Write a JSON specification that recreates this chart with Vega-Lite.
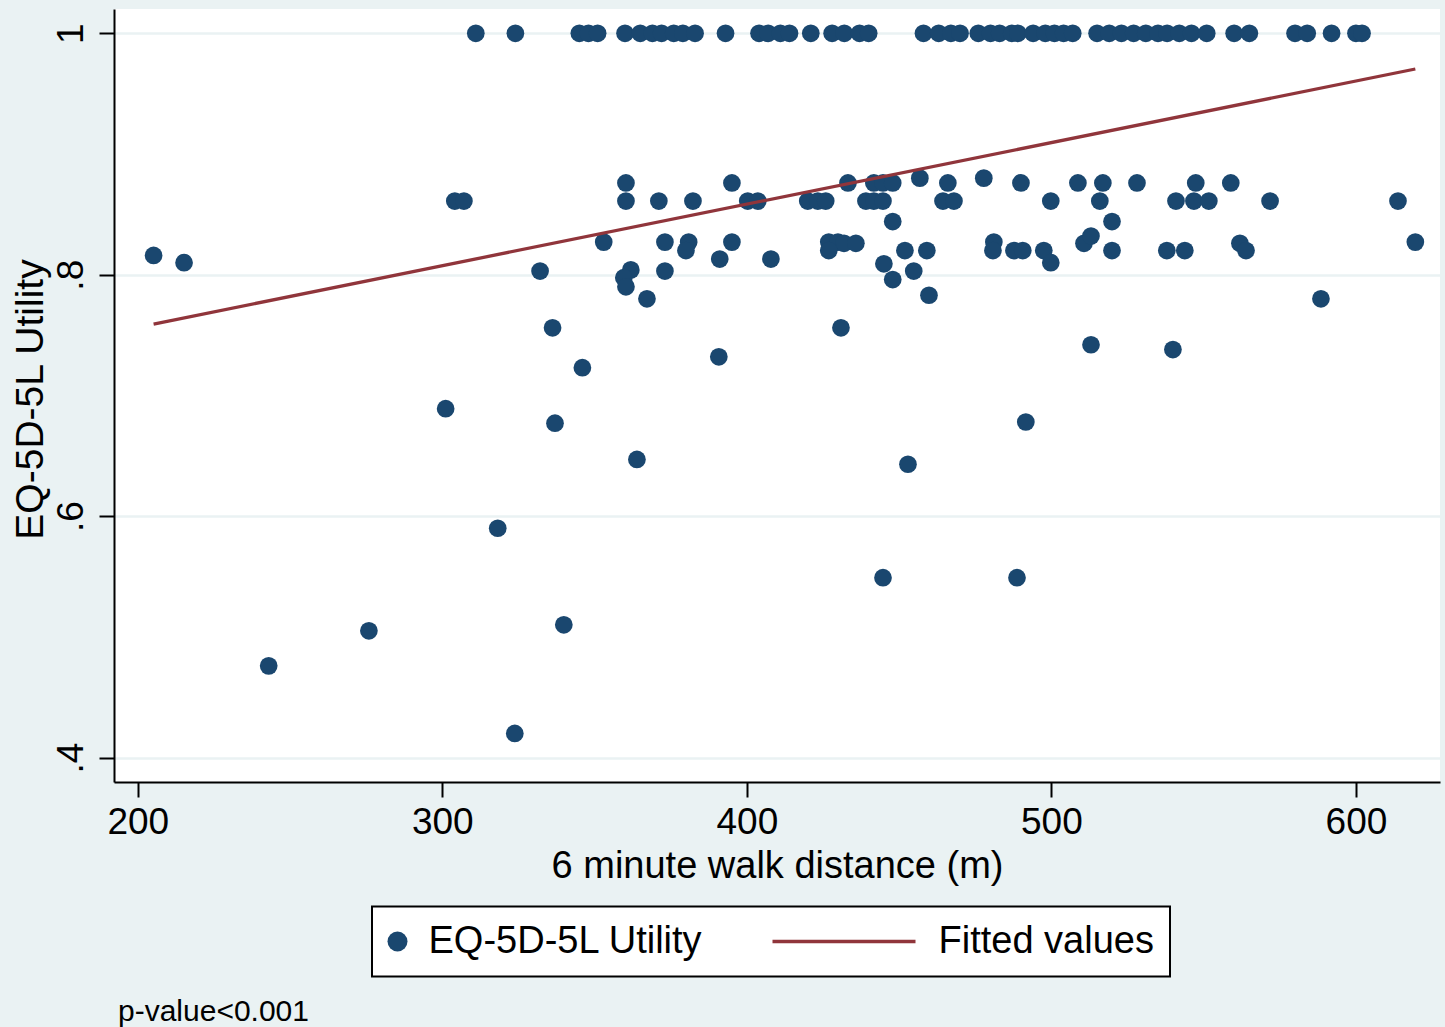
{
  "$schema": "https://vega.github.io/schema/vega-lite/v6.json",
  "width": 1326,
  "height": 773,
  "autosize": {"type": "none"},
  "padding": {"left": 114, "top": 9, "right": 5, "bottom": 245},
  "background": "#EAF2F3",
  "config": {
    "view": {"fill": "white", "stroke": null},
    "font": "Liberation Sans",
    "legend": {"strokeWidth": 2}
  },
  "title": {
    "text": "p-value<0.001",
    "orient": "bottom",
    "anchor": "start",
    "frame": "group",
    "fontSize": 30,
    "fontWeight": "normal",
    "font": "Liberation Sans",
    "color": "black",
    "baseline": "alphabetic",
    "offset": 43,
    "dx": 4
  },
  "datasets": {
    "pts": [
      {"walk":311,"utility":1},{"walk":324,"utility":1},{"walk":345,"utility":1},{"walk":348,"utility":1},{"walk":351,"utility":1},
      {"walk":360,"utility":1},{"walk":365,"utility":1},{"walk":369,"utility":1},{"walk":372,"utility":1},{"walk":376,"utility":1},
      {"walk":379,"utility":1},{"walk":383,"utility":1},{"walk":393,"utility":1},{"walk":404,"utility":1},{"walk":407,"utility":1},
      {"walk":411,"utility":1},{"walk":414,"utility":1},{"walk":421,"utility":1},{"walk":428,"utility":1},{"walk":432,"utility":1},
      {"walk":437,"utility":1},{"walk":440,"utility":1},{"walk":458,"utility":1},{"walk":463,"utility":1},{"walk":467,"utility":1},
      {"walk":470,"utility":1},{"walk":476,"utility":1},{"walk":480,"utility":1},{"walk":483,"utility":1},{"walk":487,"utility":1},
      {"walk":489,"utility":1},{"walk":494,"utility":1},{"walk":498,"utility":1},{"walk":501,"utility":1},{"walk":504,"utility":1},
      {"walk":507,"utility":1},{"walk":515,"utility":1},{"walk":519,"utility":1},{"walk":523,"utility":1},{"walk":527,"utility":1},
      {"walk":531,"utility":1},{"walk":535,"utility":1},{"walk":538,"utility":1},{"walk":542,"utility":1},{"walk":546,"utility":1},
      {"walk":551,"utility":1},{"walk":560,"utility":1},{"walk":565,"utility":1},{"walk":580,"utility":1},{"walk":584,"utility":1},
      {"walk":592,"utility":1},{"walk":600,"utility":1},{"walk":602,"utility":1},
      {"walk":360.3,"utility":0.876},{"walk":395.1,"utility":0.876},{"walk":433.2,"utility":0.876},{"walk":441.7,"utility":0.876},
      {"walk":444.7,"utility":0.876},{"walk":447.9,"utility":0.876},{"walk":466.0,"utility":0.876},{"walk":490.0,"utility":0.876},
      {"walk":508.7,"utility":0.876},{"walk":516.9,"utility":0.876},{"walk":528.1,"utility":0.876},{"walk":547.4,"utility":0.876},
      {"walk":558.9,"utility":0.876},
      {"walk":456.8,"utility":0.880},{"walk":477.8,"utility":0.880},
      {"walk":304.1,"utility":0.861},{"walk":307.1,"utility":0.861},{"walk":360.3,"utility":0.861},{"walk":371.1,"utility":0.861},
      {"walk":382.3,"utility":0.861},{"walk":400.3,"utility":0.861},{"walk":403.6,"utility":0.861},{"walk":420.0,"utility":0.861},
      {"walk":423.3,"utility":0.861},{"walk":425.9,"utility":0.861},{"walk":439.1,"utility":0.861},{"walk":441.7,"utility":0.861},
      {"walk":444.7,"utility":0.861},{"walk":464.4,"utility":0.861},{"walk":468.0,"utility":0.861},{"walk":499.8,"utility":0.861},
      {"walk":515.9,"utility":0.861},{"walk":540.9,"utility":0.861},{"walk":546.8,"utility":0.861},{"walk":551.7,"utility":0.861},
      {"walk":571.8,"utility":0.861},{"walk":613.8,"utility":0.861},
      {"walk":353.0,"utility":0.827},{"walk":373.1,"utility":0.827},{"walk":380.9,"utility":0.827},{"walk":395.1,"utility":0.827},
      {"walk":426.9,"utility":0.827},{"walk":429.9,"utility":0.827},{"walk":431.9,"utility":0.826},{"walk":435.8,"utility":0.826},
      {"walk":481.1,"utility":0.827},{"walk":510.7,"utility":0.826},{"walk":561.9,"utility":0.826},{"walk":619.5,"utility":0.827},
      {"walk":380.0,"utility":0.820},{"walk":426.9,"utility":0.820},{"walk":451.9,"utility":0.820},{"walk":459.1,"utility":0.820},
      {"walk":480.8,"utility":0.820},{"walk":487.7,"utility":0.820},{"walk":490.6,"utility":0.820},{"walk":497.5,"utility":0.820},
      {"walk":519.9,"utility":0.820},{"walk":537.9,"utility":0.820},{"walk":543.8,"utility":0.820},{"walk":563.9,"utility":0.820},
      {"walk":361.9,"utility":0.804},{"walk":359.6,"utility":0.7975},{"walk":360.3,"utility":0.790},{"walk":367.2,"utility":0.780},
      {"walk":373.1,"utility":0.803},{"walk":391.1,"utility":0.813},{"walk":407.9,"utility":0.813},{"walk":445.0,"utility":0.809},
      {"walk":447.9,"utility":0.796},{"walk":454.8,"utility":0.803},{"walk":459.8,"utility":0.783},{"walk":447.9,"utility":0.844},
      {"walk":499.8,"utility":0.810},{"walk":513.0,"utility":0.832},{"walk":519.9,"utility":0.844},
      {"walk":205.2,"utility":0.816},{"walk":215.2,"utility":0.810},{"walk":332.1,"utility":0.803},{"walk":336.2,"utility":0.756},
      {"walk":346.0,"utility":0.723},{"walk":301.1,"utility":0.689},{"walk":337.0,"utility":0.677},{"walk":243.0,"utility":0.476},
      {"walk":275.9,"utility":0.505},{"walk":318.2,"utility":0.590},{"walk":323.8,"utility":0.420},{"walk":339.9,"utility":0.510},
      {"walk":363.9,"utility":0.647},{"walk":390.8,"utility":0.732},{"walk":430.9,"utility":0.756},{"walk":444.7,"utility":0.549},
      {"walk":452.9,"utility":0.643},{"walk":488.7,"utility":0.549},{"walk":491.6,"utility":0.678},{"walk":513.0,"utility":0.742},
      {"walk":539.9,"utility":0.738},{"walk":588.5,"utility":0.780}
    ],
    "fit": [
      {"walk": 205.2, "utility": 0.7591},
      {"walk": 619.5, "utility": 0.9704}
    ]
  },
  "layer": [
    {
      "data": {"name": "pts"},
      "mark": {"type": "point", "filled": true, "size": 314, "opacity": 1, "strokeWidth": 0},
      "encoding": {
        "x": {
          "field": "walk", "type": "quantitative",
          "scale": {"domain": [192.2, 627.6], "nice": false, "zero": false},
          "axis": {
            "values": [200, 300, 400, 500, 600],
            "title": "6 minute walk distance (m)",
            "grid": false,
            "domainColor": "black", "domainWidth": 2,
            "tickColor": "black", "tickWidth": 2, "tickSize": 15,
            "labelFont": "Liberation Sans", "labelFontSize": 37, "labelColor": "black",
            "labelBaseline": "top", "labelPadding": 7, "labelAlign": "center", "labelAngle": 0,
            "titleFont": "Liberation Sans", "titleFontSize": 38, "titleFontWeight": "normal", "titleColor": "black",
            "titleX": 663, "titleY": 95, "titleAlign": "center", "titleBaseline": "alphabetic", "titleAngle": 0
          }
        },
        "y": {
          "field": "utility", "type": "quantitative",
          "scale": {"domain": [0.3798, 1.0201], "nice": false, "zero": false},
          "axis": {
            "values": [0.4, 0.6, 0.8, 1],
            "labelExpr": "datum.value == 1 ? '1' : '.' + round(datum.value * 10)",
            "title": "EQ-5D-5L Utility",
            "grid": true, "gridColor": "#EAF2F3", "gridWidth": 2.7,
            "domainColor": "black", "domainWidth": 2,
            "tickColor": "black", "tickWidth": 2, "tickSize": 15,
            "labelFont": "Liberation Sans", "labelFontSize": 37, "labelColor": "black",
            "labelAngle": 270, "labelAlign": "center", "labelBaseline": "alphabetic", "labelPadding": 17,
            "titleFont": "Liberation Sans", "titleFontSize": 39, "titleFontWeight": "normal", "titleColor": "black",
            "titleX": -72, "titleY": 390, "titleAlign": "center", "titleBaseline": "alphabetic", "titleAngle": 270
          }
        },
        "color": {
          "datum": "EQ-5D-5L Utility",
          "type": "nominal",
          "scale": {"domain": ["EQ-5D-5L Utility", "Fitted values"], "range": ["#1a476f", "#90353b"]},
          "legend": {
            "title": null,
            "orient": "none",
            "legendX": 258,
            "legendY": 897.5,
            "direction": "horizontal",
            "columns": 2,
            "padding": 16,
            "strokeColor": "black",
            "fillColor": "white",
            "cornerRadius": 0,
            "labelFont": "Liberation Sans",
            "labelFontSize": 38,
            "labelColor": "black",
            "labelLimit": 0,
            "labelExpr": "datum.value == 'Fitted values' ? 'Fitted values\u00a0\u00a0' : datum.label",
            "symbolSize": 400,
            "symbolStrokeWidth": 0,
            "symbolOpacity": 1,
            "symbolOffset": -9.5,
            "columnPadding": 69,
            "labelOffset": 12
          }
        },
        "shape": {
          "datum": "EQ-5D-5L Utility",
          "type": "nominal",
          "scale": {"domain": ["EQ-5D-5L Utility", "Fitted values"], "range": ["circle", "M-13.5,-0.165H0.8V0.165H-13.5Z"]},
          "legend": {
            "title": null,
            "orient": "none",
            "legendX": 258,
            "legendY": 897.5,
            "direction": "horizontal",
            "columns": 2,
            "padding": 16,
            "strokeColor": "black",
            "fillColor": "white",
            "cornerRadius": 0,
            "labelFont": "Liberation Sans",
            "labelFontSize": 38,
            "labelColor": "black",
            "labelLimit": 0,
            "labelExpr": "datum.value == 'Fitted values' ? 'Fitted values\u00a0\u00a0' : datum.label",
            "symbolSize": 400,
            "symbolStrokeWidth": 0,
            "symbolOpacity": 1,
            "symbolOffset": -9.5,
            "columnPadding": 69,
            "labelOffset": 12
          }
        }
      }
    },
    {
      "data": {"name": "fit"},
      "mark": {"type": "line", "strokeWidth": 3.3},
      "encoding": {
        "x": {"field": "walk", "type": "quantitative"},
        "y": {"field": "utility", "type": "quantitative"},
        "color": {"datum": "Fitted values", "type": "nominal"}
      }
    }
  ]
}
